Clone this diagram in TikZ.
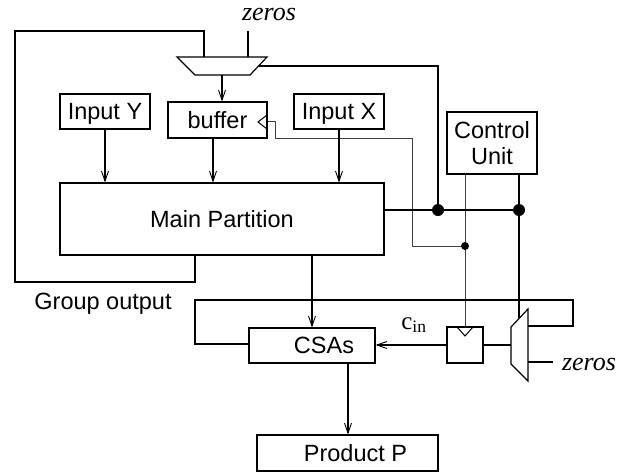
\documentclass[tikz,border=0pt]{standalone}
\usepackage{fontspec}
\setmainfont{Liberation Sans}
\newfontfamily\seriffont{Liberation Serif}
\usetikzlibrary{arrows.meta}
\begin{document}
\begin{tikzpicture}[x=1pt,y=-1pt,
  wire/.style={line width=1.2pt, line join=miter},
  thinwire/.style={line width=0.8pt, black!75},
  arr/.style={wire,-{Straight Barb[length=10pt,width=7pt,line width=0.9pt]}},
  blk/.style={draw,line width=1.2pt,rectangle,inner sep=0pt,font=\fontsize{23.5}{26}\selectfont},
  capc/.style={text height=16.8pt,text depth=0pt},
  lbl/.style={font=\fontsize{23.5}{26}\selectfont, inner sep=0pt},
  zlbl/.style={font=\seriffont\itshape\fontsize{26}{28}\selectfont, inner sep=0pt},
  slbl/.style={font=\seriffont\fontsize{25}{28}\selectfont, inner sep=0pt},
  bigdot/.style={circle,fill,inner sep=0pt,minimum size=12pt},
  smalldot/.style={circle,fill,inner sep=0pt,minimum size=8pt}]
\useasboundingbox (0,0) rectangle (634,475);

% blocks
\node[blk,capc,minimum width=90pt,minimum height=35pt] (iny) at (105,111.5) {Input Y};
\node[blk,capc,minimum width=99pt,minimum height=36pt] (buf) at (217.5,120) {buffer};
\node[blk,capc,minimum width=90pt,minimum height=35pt] (inx) at (339,111.5) {Input X};
\node[blk,minimum width=90pt,minimum height=62pt,align=center] (ctrl) at (492,143) {Control\\Unit};
\node[blk,capc,minimum width=324pt,minimum height=72pt] (main) at (222,219) {Main Partition};
\node[blk,capc,minimum width=126pt,minimum height=35pt] (csa) at (312,345.5) {\hspace*{24pt}CSAs};
\node[blk,minimum width=36pt,minimum height=36pt] (reg) at (465,345) {};
\node[blk,capc,minimum width=181pt,minimum height=36pt] (prod) at (347.5,453) {\hspace*{16pt}Product P};

% labels
\node[lbl,capc] (gout) at (103,301) {Group output};
\node[zlbl] (z1) at (269,14) {zeros};
\node[zlbl] (z2) at (589,364) {zeros};
\node[slbl] (cin) at (414,325) {c\textsubscript{in}};

% mux 1 (top)
\coordinate (m1a) at (177,57);
\coordinate (m1b) at (267,57);
\coordinate (m1c) at (250,75);
\coordinate (m1d) at (195,75);
\draw[wire] (m1a) -- (m1b) -- (m1c) -- (m1d) -- cycle;
\coordinate (m1in1) at (204,57);
\coordinate (m1in2) at (248,57);
\coordinate (m1out) at (222,75);
\coordinate (m1sel) at (258.5,66);

% mux 2 (right)
\coordinate (m2a) at (511,327);
\coordinate (m2b) at (528,309);
\coordinate (m2c) at (528,381);
\coordinate (m2d) at (511,364);
\draw[wire] (m2a) -- (m2b) -- (m2c) -- (m2d) -- cycle;
\coordinate (m2in1) at (528,326);
\coordinate (m2in2) at (528,362);
\coordinate (m2out) at (511,345);
\coordinate (m2sel) at (519,318);

% clock marks
\draw[line width=1pt] (267,115) -- (258,122) -- (267,129);
\draw[line width=1pt] (457,327) -- (465,336) -- (473,327);

% thin control wires
\coordinate (c1) at (275,121);
\coordinate (c2) at (275,138);
\coordinate (c3) at (412,138);
\coordinate (c4) at (412,246);
\coordinate (sd) at (465,246);
\draw[thinwire] (buf.east |- c1) -- (c1) -- (c2) -- (c3) -- (c4) -- (sd);
\draw[thinwire] (ctrl.south -| reg.north) -- (reg.north);

% group output loop
\coordinate (g1) at (195,282);
\coordinate (g2) at (15,282);
\coordinate (g3) at (15,31);
\coordinate (g4) at (204,31);
\draw[wire] (main.south -| g1) -- (g1) -- (g2) -- (g3) -- (g4) -- (m1in1);

% zeros into mux 1
\coordinate (z1e) at (248,31);
\draw[wire] (z1e) -- (m1in2);

% mux 1 output
\draw[arr] (m1out) -- (buf.north -| m1out);

% inputs into main partition
\coordinate (bufo) at (213,138);
\draw[arr] (iny.south) -- (main.north -| iny.south);
\draw[arr] (bufo) -- (main.north -| bufo);
\draw[arr] (inx.south) -- (main.north -| inx.south);

% select bus
\coordinate (j1) at (438,210);
\coordinate (j2) at (519,210);
\draw[wire] (m1sel) -- (m1sel -| j1) -- (j1);
\draw[wire] (main.east |- j1) -- (j2);
\draw[wire] (ctrl.south -| j2) -- (m2sel);

% main -> CSAs
\draw[arr] (main.south -| csa.north) -- (csa.north);

% CSA feedback loop
\coordinate (l1) at (573,326);
\coordinate (l2) at (573,300);
\coordinate (l3) at (195,300);
\coordinate (l4) at (195,344);
\draw[wire] (m2in1) -- (l1) -- (l2) -- (l3) -- (l4) -- (csa.west |- l4);

% register / cin
\draw[arr] (reg.west) -- (csa.east |- reg.west);
\draw[wire] (reg.east) -- (m2out);

% zeros into mux 2
\coordinate (z2e) at (553,362);
\draw[wire] (m2in2) -- (z2e);

% CSAs -> product
\coordinate (co) at (348,363);
\draw[arr] (co) -- (prod.north -| co);

% dots
\node[bigdot] (d1) at (j1) {};
\node[bigdot] (d2) at (j2) {};
\node[smalldot] (d3) at (sd) {};
\end{tikzpicture}
\end{document}
